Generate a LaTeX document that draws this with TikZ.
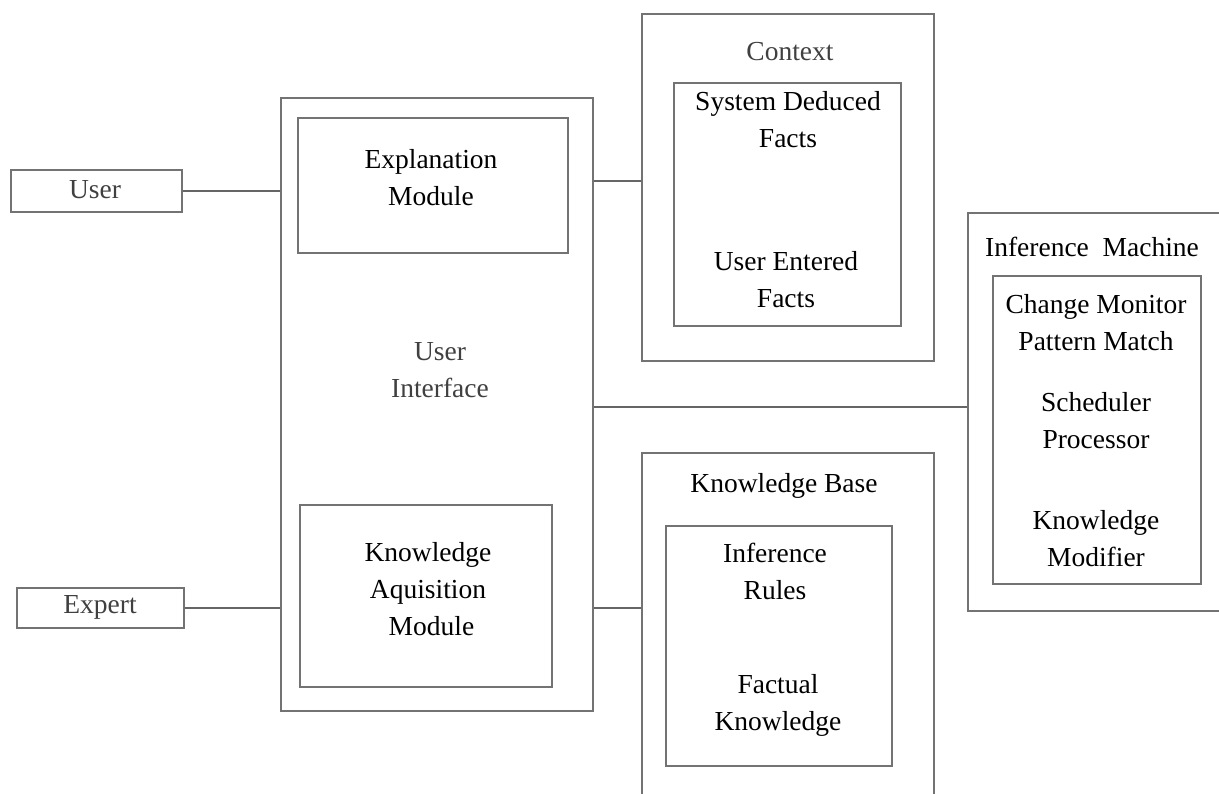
\documentclass[tikz,border=0pt]{standalone}
\usepackage{fontspec}
\setmainfont{Liberation Serif}
\begin{document}
\begin{tikzpicture}[x=1pt,y=-1pt,
  box/.style={draw=black!55,line width=1.6pt,rectangle,inner sep=0pt,anchor=north west},
  link/.style={draw=black!60,line width=1.6pt},
  lbl/.style={font=\fontsize{27.5}{37}\selectfont,text=black,inner sep=0pt,align=center},
  glbl/.style={lbl,text=black!75}]
\useasboundingbox (0,0) rectangle (1219,794);
\clip (0,0) rectangle (1219,794);
% boxes
\node[box,minimum width=171pt,minimum height=42pt] (user) at (10,169) {};
\node[box,minimum width=167pt,minimum height=40pt] (expert) at (16,587) {};
\node[box,minimum width=312pt,minimum height=613pt] (ui) at (280,97) {};
\node[box,minimum width=270pt,minimum height=135pt] (expl) at (297,117) {};
\node[box,minimum width=252pt,minimum height=182pt] (kam) at (299,504) {};
\node[box,minimum width=292pt,minimum height=347pt] (ctx) at (641,13) {};
\node[box,minimum width=227pt,minimum height=243pt] (ctxin) at (673,82) {};
\node[box,minimum width=256pt,minimum height=398pt] (im) at (967,212) {};
\node[box,minimum width=208pt,minimum height=308pt] (imin) at (992,275) {};
\node[box,minimum width=292pt,minimum height=360pt] (kb) at (641,452) {};
\node[box,minimum width=226pt,minimum height=240pt] (kbin) at (665,525) {};
% labels
\node[glbl] (tuser) at (95,190) {User};
\node[glbl] (texpert) at (100,607) {Expert};
\node[lbl] (texpl) at (431,178) {Explanation\\Module};
\node[glbl] (tui) at (440,370) {User\\Interface};
\node[lbl] (tkam) at (428,589) {Knowledge\\Aquisition\\\ Module};
\node[glbl] (tctx) at (790,52) {Context};
\node[lbl] (tsdf) at (788,120) {System Deduced\\Facts};
\node[lbl] (tuef) at (786,280) {User Entered\\Facts};
\node[lbl] (tim) at (1092,247) {Inference\ \ Machine};
\node[lbl] (tcm) at (1096,323) {Change Monitor\\Pattern Match};
\node[lbl] (tsp) at (1096,421) {Scheduler\\Processor};
\node[lbl] (tkmod) at (1096,539) {Knowledge\\Modifier};
\node[lbl] (tkb) at (784,486) {Knowledge Base};
\node[lbl] (tir) at (775,571) {Inference\\Rules};
\node[lbl] (tfk) at (778,705) {Factual\\Knowledge};
% connectors
\coordinate (ctxy) at (0,181);
\coordinate (imy) at (0,407);
\draw[link] (user.east) -- (user.east -| ui.west);
\draw[link] (expert.east) -- (expert.east -| ui.west);
\draw[link] (ui.east |- ctxy) -- (ctx.west |- ctxy);
\draw[link] (ui.east |- imy) -- (im.west |- imy);
\draw[link] (ui.east |- expert.east) -- (kb.west |- expert.east);
\end{tikzpicture}
\end{document}
